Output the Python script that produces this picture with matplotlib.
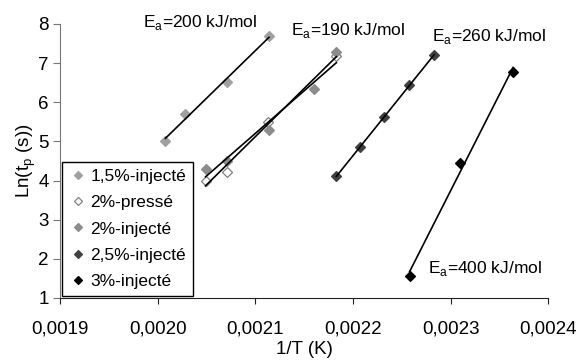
import numpy as np
import matplotlib
matplotlib.use("Agg")
import matplotlib.pyplot as plt
from matplotlib.ticker import FuncFormatter

plt.rcParams['font.family'] = ['Liberation Sans', 'DejaVu Sans']
plt.rcParams['mathtext.fontset'] = 'custom'
plt.rcParams['mathtext.rm'] = 'Liberation Sans'

# Données : 1/T (K^-1) et Ln(tp (s))
inv_T_15 = [0.002008, 0.002028, 0.002071, 0.002114]
ln_tp_15 = [5.01, 5.70, 6.52, 7.69]

inv_T_20p = [0.002049, 0.002071, 0.002113, 0.002183]
ln_tp_20p = [4.00, 4.21, 5.50, 7.17]

inv_T_20i = [0.002049, 0.002071, 0.002114, 0.002160, 0.002183]
ln_tp_20i = [4.30, 4.50, 5.29, 6.33, 7.28]

inv_T_25 = [0.002183, 0.002207, 0.002232, 0.002257, 0.002283]
ln_tp_25 = [4.11, 4.85, 5.62, 6.43, 7.20]

inv_T_30 = [0.002258, 0.002310, 0.002364]
ln_tp_30 = [1.56, 4.46, 6.78]

labels = ['1,5%-injecté', '2%-pressé', '2%-injecté', '2,5%-injecté', '3%-injecté']
ea_labels = ['200', '190', '260', '400']

fig = plt.figure(figsize=(5.8, 3.6), dpi=100)
ax = fig.add_axes([60 / 580, 1 - 298 / 360, (548.3 - 60) / 580, (298 - 24) / 360])

series = [
    (inv_T_15, ln_tp_15, '#a0a0a0', '#a0a0a0'),
    (inv_T_20p, ln_tp_20p, 'white', '#808080'),
    (inv_T_20i, ln_tp_20i, '#8c8c8c', '#8c8c8c'),
    (inv_T_25, ln_tp_25, '#404040', '#404040'),
    (inv_T_30, ln_tp_30, 'black', 'black'),
]

for (x, y, fc, ec), lab in zip(series, labels):
    ax.plot(x, y, ls='none', marker='D', ms=5.5, mfc=fc, mec=ec, mew=0.9,
            label=lab, zorder=2)
    # droite de tendance (régression linéaire)
    p = np.polyfit(x, y, 1)
    xx = np.array([min(x), max(x)])
    ax.plot(xx, np.polyval(p, xx), color='black', lw=1.2, zorder=3)

ax.set_xlim(0.0019, 0.0024)
ax.set_ylim(1, 8)
ax.set_xticks([0.0019, 0.0020, 0.0021, 0.0022, 0.0023, 0.0024])
ax.set_yticks(range(1, 9))
ax.xaxis.set_major_formatter(FuncFormatter(lambda v, pos: f"{v:.4f}".replace('.', ',')))

for s in ['top', 'right']:
    ax.spines[s].set_visible(False)
ax.spines['left'].set_color('#777777')
ax.spines['bottom'].set_color('#222222')
ax.tick_params(axis='y', direction='out', length=5, colors='#777777', labelcolor='black',
               labelsize=13.5, pad=3)
ax.tick_params(axis='x', direction='out', length=4.5, colors='#222222', labelcolor='black',
               labelsize=13.5, pad=12)

ax.set_xlabel('1/T (K)', fontsize=13.5, labelpad=2.5)
ax.set_ylabel(r'Ln(t$_\mathregular{p}$ (s))', fontsize=13.5, labelpad=0.5)

# étiquettes d'énergie d'activation
txt_pos = [(0.001985, 8.03), (0.002137, 7.83), (0.002281, 7.69), (0.002277, 1.76)]
for (tx, ty), ea in zip(txt_pos, ea_labels):
    ax.text(tx, ty, r'E$_\mathregular{a}$=' + ea + ' kJ/mol', fontsize=12.5,
            ha='left', va='center', clip_on=False)

leg = ax.legend(loc='lower left', bbox_to_anchor=(61.7 / 580, 1 - 296 / 360),
                bbox_transform=fig.transFigure, borderaxespad=0, numpoints=1,
                fontsize=12.5, handlelength=1.1, handletextpad=0.15, labelspacing=0.64,
                borderpad=0.4, fancybox=False, framealpha=1, markerscale=0.75)
leg.get_frame().set_edgecolor('black')
leg.get_frame().set_linewidth(1.0)

fig.savefig('out.png', dpi=100)
